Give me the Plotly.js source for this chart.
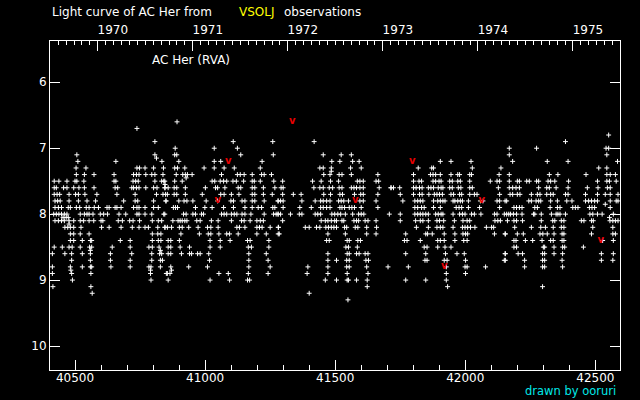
<!DOCTYPE html>
<html><head><meta charset="utf-8">
<script src="https://cdn.plot.ly/plotly-3.0.1.min.js"></script>
<style>html,body{margin:0;padding:0;background:#000;}#chart{width:640px;height:400px;}</style>
</head><body><div id="chart"></div>
<script>
// Visual magnitude observations of AC Her (JD - 2400000), grouped as [magnitude, [JD, ...]]
const season1969 = [
 [6.7,[40738]],
 [6.9,[40807]],
 [7.1,[40507,40807]],
 [7.15,[40813]],
 [7.2,[40511,40657,40834]],
 [7.3,[40504,40542,40738,40748,40769,40802,40840]],
 [7.4,[40505,40536,40573,40650,40725,40736,40746,40772,40795,40807,40838]],
 [7.5,[40420,40438,40469,40500,40507,40534,40650,40657,40723,40733,40743,40807,40833,40841]],
 [7.55,[40846]],
 [7.6,[40420,40428,40456,40469,40495,40515,40536,40573,40654,40664,40718,40725,40736,40746,40772,40802,40815,40846]],
 [7.7,[40420,40431,40441,40477,40502,40513,40538,40584,40661,40731,40813,40838]],
 [7.8,[40423,40433,40443,40477,40513,40546,40579,40687,40731,40741,40802,40849]],
 [7.9,[40423,40436,40448,40474,40482,40505,40518,40543,40554,40574,40590,40623,40631,40654,40661,40677,40725,40738,40746,40769,40802,40820]],
 [8.0,[40418,40428,40438,40448,40459,40469,40520,40536,40546,40554,40569,40597,40610,40625,40669,40695,40738,40746,40769,40795,40841]],
 [8.05,[40454,40466,40474]],
 [8.1,[40423,40436,40448,40459,40477,40495,40520,40533,40554,40572,40600,40607,40666,40682,40710,40723,40748,40797,40820,40833]],
 [8.15,[40477]],
 [8.2,[40461,40472,40482,40495,40523,40602,40631,40677,40720,40746,40769,40782,40818,40846]],
 [8.3,[40482,40495,40520,40554,40797,40818,40830]],
 [8.4,[40482,40495,40528,40559,40564,40674,40712,40797,40820,40830]],
 [8.5,[40420,40451,40477,40489,40520,40556,40564,40643,40712,40784,40797,40823]],
 [8.55,[40559,40828]],
 [8.6,[40413,40461,40487,40528,40559,40636,40718,40795,40825,40833]],
 [8.7,[40487,40559,40636,40712,40795,40828,40836]],
 [8.8,[40413,40482,40528,40559,40564,40638,40712,40784,40792,40828]],
 [8.85,[40484,40790]],
 [8.9,[40413,40487,40561,40790,40851]],
 [9.0,[40490,40792]],
 [9.1,[40415,40561]],
 [9.2,[40566]]
];
const season1970 = [
 [6.6,[40892]],
 [6.9,[41108,41260]],
 [7.0,[40885,41035,41124]],
 [7.1,[40883,40891,41137,41262]],
 [7.2,[40899,41035,41060,41219]],
 [7.3,[40883,40894,40922,40996,41035,41073,41112,41212]],
 [7.4,[40889,40914,40924,40932,40950,41063,41124,41135,41150,41181,41217,41227,41255]],
 [7.45,[40927]],
 [7.5,[40845,40883,40912,41027,41037,41058,41071,41083,41107,41120,41148,41181,41189,41212,41264]],
 [7.6,[40845,40858,40881,40891,40924,41001,41040,41048,41076,41127,41137,41181,41191,41224,41268]],
 [7.7,[40848,40855,40881,40891,40924,40989,41060,41073,41101,41130,41181,41191,41224,41258]],
 [7.8,[40850,40899,40919,40930,40953,41004,41048,41099,41109,41142,41153,41181,41191,41227,41281]],
 [7.9,[40878,40886,40894,40963,40999,41027,41071,41109,41153,41181,41204,41217,41260,41268]],
 [8.0,[40845,40917,40927,40953,40963,40986,40994,41063,41073,41083,41101,41112,41122,41142,41153,41176,41227,41263,41273,41281]],
 [8.1,[40876,40896,40904,40912,40922,40930,40968,40981,41024,41050,41101,41140,41150,41173,41199,41212,41224]],
 [8.2,[40845,40855,40871,40901,40912,40937,40973,41009,41022,41050,41122,41132,41153,41199,41209,41219,41250,41281]],
 [8.3,[40907,40978,41012,41022,41053,41083,41094,41127,41199,41235,41281]],
 [8.4,[40858,40868,40901,41019,41058,41096,41163,41173,41245]],
 [8.5,[40858,40868,40904,40940,41019,41058,41166,41178,41245]],
 [8.6,[40858,40868,40909,40940,40948,40971,40981,41014,41168,41235]],
 [8.7,[41017,41168,41242]],
 [8.8,[40868,40937,41009,41168,41250]],
 [8.85,[40871]],
 [8.9,[40855,40865,41053,41089,41166,41242]],
 [9.0,[40858,41019,41094,41163,41171]]
];
const season1972 = [
 [6.9,[41419]],
 [7.1,[41454,41523,41562]],
 [7.2,[41487,41518,41567,41592]],
 [7.3,[41441,41454,41485,41559,41600]],
 [7.35,[41485]],
 [7.4,[41456,41480,41515,41526,41562,41664]],
 [7.5,[41298,41413,41446,41482,41513,41585,41595,41608,41657,41667]],
 [7.6,[41292,41300,41418,41441,41454,41477,41490,41515,41526,41562,41572,41582,41595,41608,41669,41715]],
 [7.7,[41298,41339,41369,41456,41482,41518,41528,41574,41598,41608,41664]],
 [7.8,[41280,41290,41300,41372,41423,41444,41454,41467,41480,41513,41523,41533,41551,41595,41608,41657]],
 [7.9,[41300,41364,41408,41444,41454,41467,41480,41518,41526,41536,41554,41564,41574,41600,41664]],
 [8.0,[41280,41290,41328,41362,41372,41423,41433,41444,41487,41498,41510,41521,41539,41567,41590,41600,41610,41708]],
 [8.1,[41298,41446,41462,41472,41485,41498,41505,41526,41533,41572,41582,41590,41615,41626,41657]],
 [8.2,[41282,41385,41400,41428,41441,41464,41474,41485,41495,41505,41536,41544,41577,41587,41621,41659]],
 [8.3,[41285,41472,41539,41621,41657]],
 [8.4,[41467,41477,41546,41554,41587,41597]],
 [8.5,[41541,41551,41585]],
 [8.6,[41472,41546,41554,41582,41592,41615,41626]],
 [8.7,[41472,41505,41544,41554,41618,41628]],
 [8.8,[41395,41472,41544,41554,41621,41703]],
 [8.9,[41392,41472,41546,41626]],
 [9.0,[41462,41505,41546,41551,41582,41623]],
 [9.1,[41623]],
 [9.2,[41400]],
 [9.3,[41549]]
];
const season1973 = [
 [7.2,[41904,41945,42022]],
 [7.3,[41819,41871,41878,42027,42137]],
 [7.4,[41801,41866,41876,41886,41904,41945,41971,41978,42017,42024,42130]],
 [7.5,[41801,41822,41832,41876,41886,41899,41907,41940,41950,41971,41981,42017,42096,42122,42132]],
 [7.6,[41714,41724,41748,41801,41811,41824,41834,41858,41868,41878,41896,41907,41914,41940,41950,41973,41983,42017,42027,42127]],
 [7.7,[41750,41801,41824,41834,41860,41881,41891,41901,41912,41945,41955,41978,41986,42017,42035,42045,42132]],
 [7.8,[41760,41806,41817,41827,41837,41878,41894,41904,41914,41922,41953,41960,41971,41981,41989,42012,42058,42068,42122,42132,42153]],
 [7.9,[41806,41817,41832,41842,41878,41904,41965,41976,41986,42012,42055,42132]],
 [8.0,[41750,41806,41817,41827,41837,41848,41858,41886,41896,41907,41914,41953,41978,41989,41999,42024,42035,42060,42112,42122,42150]],
 [8.1,[41750,41809,41827,41837,41858,41891,41901,41917,41958,41991,42007,42017,42114,42125,42135]],
 [8.2,[41812,41858,41891,41904,41914,41953,41989,41999,42009,42020,42037,42081,42101,42109]],
 [8.3,[41771,41848,41855,41873,41919,41960,41991,42001,42009,42112,42153]],
 [8.4,[41766,41776,41827,41894,41904,41919,41960,41994,42007]],
 [8.5,[41842,41853,41894,41922,41945]],
 [8.6,[41771,41848,41924,41968,41996,42153]],
 [8.7,[41845,41853,41919,41930,42001,42150]],
 [8.8,[41781,41927,41999,42007,42078]],
 [8.9,[41927,42001]],
 [9.0,[41771,41848,41927]],
 [9.1,[41932]]
];
const season1974 = [
 [6.8,[42551]],
 [6.9,[42385]],
 [7.0,[42169,42274,42541,42551]],
 [7.1,[42169,42544]],
 [7.2,[42182,42315,42395,42585]],
 [7.3,[42513,42544]],
 [7.4,[42169,42323,42356,42464,42544,42557,42577]],
 [7.5,[42169,42200,42208,42236,42246,42274,42282,42318,42328,42344,42397,42508,42544,42554,42580]],
 [7.6,[42169,42182,42195,42208,42282,42313,42323,42349,42395,42469,42510,42546,42557]],
 [7.7,[42172,42182,42200,42210,42254,42277,42287,42313,42328,42338,42385,42395,42462,42508,42538,42557,42587]],
 [7.8,[42159,42244,42254,42272,42282,42290,42328,42354,42390,42410,42462,42474,42485,42497,42508,42557,42580,42587]],
 [7.85,[42538]],
 [7.9,[42187,42197,42208,42218,42267,42277,42326,42354,42364,42413,42423,42433,42477,42487,42497,42557]],
 [8.0,[42159,42167,42174,42185,42197,42218,42262,42267,42292,42331,42349,42356,42364,42385,42479,42490,42508,42526,42569]],
 [8.05,[42554]],
 [8.1,[42162,42187,42197,42220,42292,42336,42344,42369,42379,42446,42456,42485,42492,42556,42567,42577,42587]],
 [8.2,[42190,42254,42290,42308,42338,42369,42379,42490,42567]],
 [8.3,[42154,42200,42223,42287,42298,42315,42341,42372,42379,42485,42567,42577]],
 [8.4,[42187,42195,42231,42259,42295,42328,42338,42372,42379,42528,42569]],
 [8.5,[42187,42197,42300,42305,42341,42374,42382,42454]],
 [8.6,[42154,42203,42220,42297,42305,42341,42374,42523,42569]],
 [8.7,[42154,42228,42297,42305,42372,42523,42567]],
 [8.8,[42228,42297,42305,42374]],
 [9.1,[42297]]
];
// "fainter than" observations (red marks)
const limitJD  = [41049, 41089, 41335, 41577, 41796, 41919, 42063, 42521];
const limitMag = [7.8,   7.2,   6.6,   7.8,   7.2,   8.8,   7.8,   8.4];

const jdTicks   = [40500, 41000, 41500, 42000, 42500];
const magTicks  = [6, 7, 8, 9, 10];
const yearTicks = [1970, 1971, 1972, 1973, 1974, 1975];

function flatten(list){
  const x=[], y=[];
  list.forEach(rows => rows.forEach(([m, jds]) => jds.forEach(j => { x.push(j); y.push(m); })));
  return {x, y};
}
const obs = flatten([season1969, season1970, season1972, season1973, season1974]);

const jdRange = [40403.8, 42594.6];
const jdToYear = jd => 1970 + (jd - 40587.5) / 365.25;
const F = 'DejaVu Sans';

const traces = [
  {type:'scatter', mode:'markers', x:obs.x, y:obs.y, hoverinfo:'skip',
   marker:{symbol:'cross-thin', size:3.5, color:'#ffffff', line:{color:'#ffffff', width:1}}},
  {type:'scatter', mode:'text', x:limitJD, y:limitMag, text:limitJD.map(()=> '<b>v</b>'),
   textposition:'middle center', textfont:{family:F, size:10, color:'#e80000'}, hoverinfo:'skip'},
  {type:'scatter', mode:'markers', x:[jdToYear(41000)], y:[null], xaxis:'x2', yaxis:'y', hoverinfo:'skip', showlegend:false}
];

const layout = {
  width:640, height:400,
  margin:{l:50, r:20, t:41, b:30, pad:0},
  paper_bgcolor:'#000000', plot_bgcolor:'#000000',
  showlegend:false,
  font:{family:F, size:12, color:'#ffffff'},
  xaxis:{range:jdRange, showgrid:false, zeroline:false, showline:true, linecolor:'#ffffff', linewidth:1,
    ticks:'inside', ticklen:10, tickwidth:1, tickcolor:'#ffffff',
    tickvals:jdTicks, ticktext:jdTicks.map(String), ticklabelstandoff:-3,
    tickfont:{family:F, size:12, color:'#ffffff'},
    minor:{dtick:100, tick0:0, ticks:'inside', ticklen:5, tickwidth:1, tickcolor:'#ffffff', showgrid:false}},
  xaxis2:{overlaying:'x', side:'top', anchor:'y', range:jdRange.map(jdToYear), showgrid:false, zeroline:false,
    showline:true, linecolor:'#ffffff', linewidth:1,
    ticks:'inside', ticklen:10, tickwidth:1, tickcolor:'#ffffff',
    tickvals:yearTicks, ticktext:yearTicks.map(String), ticklabelshift:15, ticklabelstandoff:1,
    tickfont:{family:F, size:12, color:'#ffffff'},
    minor:{dtick:1/12, tick0:1970, ticks:'inside', ticklen:4, tickwidth:1, tickcolor:'#ffffff', showgrid:false}},
  yaxis:{range:[10.364, 5.374], showgrid:false, zeroline:false, showline:true, mirror:'ticks',
    linecolor:'#ffffff', linewidth:1, ticks:'inside', ticklen:10, tickwidth:1, tickcolor:'#ffffff',
    tickvals:magTicks, ticktext:magTicks.map(String), tickfont:{family:F, size:12, color:'#ffffff'}},
  annotations:[
    {text:'Light curve of AC Her from', xref:'paper', yref:'paper', x:0, y:(370-12)/329, xanchor:'left', yanchor:'middle', showarrow:false, font:{family:F, size:12, color:'#ffffff'}},
    {text:'VSOLJ', xref:'paper', yref:'paper', x:(237-50)/570, y:(370-12)/329, xanchor:'left', yanchor:'middle', showarrow:false, font:{family:F, size:12, color:'#ffff00'}},
    {text:'observations', xref:'paper', yref:'paper', x:(282-50)/570, y:(370-12)/329, xanchor:'left', yanchor:'middle', showarrow:false, font:{family:F, size:12, color:'#ffffff'}},
    {text:'AC Her (RVA)', xref:'paper', yref:'paper', x:(150-50)/570, y:(370-60)/329, xanchor:'left', yanchor:'middle', showarrow:false, font:{family:F, size:12, color:'#ffffff'}},
    {text:'drawn by ooruri', xref:'paper', yref:'paper', x:(618-50)/570, y:(370-391)/329, xanchor:'right', yanchor:'middle', showarrow:false, font:{family:F, size:11.5, color:'#00e8e8'}}
  ]
};
Plotly.newPlot('chart', traces, layout, {staticPlot:true, displayModeBar:false});
</script>
</body></html>
